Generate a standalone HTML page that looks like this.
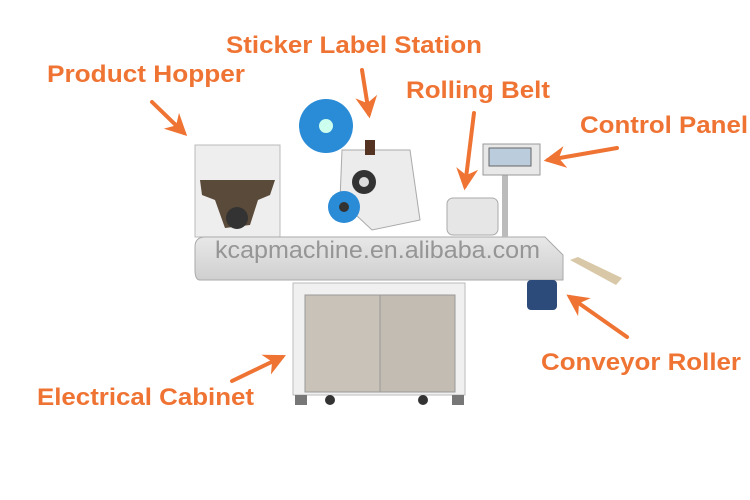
<!DOCTYPE html>
<html><head><meta charset="utf-8"><style>html,body{margin:0;padding:0;background:#fff}svg{display:block}</style></head>
<body>
<svg width="750" height="500" viewBox="0 0 750 500" xmlns="http://www.w3.org/2000/svg">
<defs>
<marker id="ah" viewBox="0 0 10 10" refX="8" refY="5" markerWidth="5.5" markerHeight="5.5" orient="auto"><path d="M0,0 L10,5 L0,10 L3,5 Z" fill="#ef7434"/></marker>
<linearGradient id="steel" x1="0" y1="0" x2="0" y2="1"><stop offset="0" stop-color="#e8e8e8"/><stop offset="1" stop-color="#cfcfcf"/></linearGradient>
</defs>
<rect width="750" height="500" fill="#fff"/>
<!-- hopper -->
<polygon points="195,145 280,145 280,237 195,237" fill="#eeeeee" stroke="#bbb"/>
<path d="M200,180 L275,180 L270,195 L258,200 L250,225 L225,228 L215,200 L202,195 Z" fill="#5a4a3a"/>
<circle cx="237" cy="218" r="11" fill="#333"/>
<!-- conveyor bar -->
<path d="M205,237 L545,237 L563,255 L563,280 L200,280 Q195,280 195,270 L195,247 Q195,237 205,237 Z" fill="url(#steel)" stroke="#aaa"/>
<polygon points="570,260 578,257 622,278 616,285" fill="#d9c8a8"/>
<!-- motor -->
<rect x="527" y="280" width="30" height="30" rx="4" fill="#2c4a7a"/>
<!-- cabinet -->
<rect x="293" y="283" width="172" height="112" fill="#f0f0f0" stroke="#bbb"/>
<rect x="305" y="295" width="75" height="97" fill="#c9c2b8" stroke="#999"/>
<rect x="380" y="295" width="75" height="97" fill="#c2bcb3" stroke="#999"/>
<rect x="295" y="395" width="12" height="10" fill="#777"/><rect x="452" y="395" width="12" height="10" fill="#777"/>
<circle cx="330" cy="400" r="5" fill="#333"/><circle cx="423" cy="400" r="5" fill="#333"/>
<!-- labeler -->
<polygon points="342,150 410,150 420,220 372,230 340,200" fill="#ececec" stroke="#aaa"/>
<circle cx="364" cy="182" r="12" fill="#333"/><circle cx="364" cy="182" r="5" fill="#ddd"/>
<circle cx="326" cy="126" r="27" fill="#2a8bd6"/><circle cx="326" cy="126" r="7" fill="#cfe"/>
<circle cx="344" cy="207" r="16" fill="#2a8bd6"/><circle cx="344" cy="207" r="5" fill="#333"/>
<rect x="365" y="140" width="10" height="15" fill="#553322"/>
<!-- control panel -->
<rect x="502" y="175" width="6" height="62" fill="#bbb"/>
<rect x="483" y="144" width="57" height="31" fill="#e8e8e8" stroke="#999"/>
<rect x="489" y="148" width="42" height="18" fill="#bcd" stroke="#666"/>
<!-- rolling belt -->
<rect x="447" y="198" width="51" height="37" rx="6" fill="#e6e6e6" stroke="#aaa"/>
<text x="215" y="258" font-family="Liberation Sans, sans-serif" font-size="24" fill="#888" fill-opacity="0.85" textLength="325" lengthAdjust="spacingAndGlyphs">kcapmachine.en.alibaba.com</text>
<!-- arrows -->
<g stroke="#ef7434" stroke-width="4" fill="none" stroke-linecap="round" marker-end="url(#ah)">
<line x1="152" y1="102" x2="184" y2="133"/>
<line x1="362" y1="70" x2="369" y2="114"/>
<line x1="474" y1="113" x2="465" y2="186"/>
<line x1="617" y1="148" x2="548" y2="160"/>
<line x1="627" y1="337" x2="570" y2="297"/>
<line x1="232" y1="381" x2="282" y2="357"/>
</g>
<g font-family="Liberation Sans, sans-serif" font-weight="bold" font-size="24" fill="#ef7434">
<text x="226" y="53" textLength="256" lengthAdjust="spacingAndGlyphs">Sticker Label Station</text>
<text x="47" y="82" textLength="198" lengthAdjust="spacingAndGlyphs">Product Hopper</text>
<text x="406" y="98" textLength="144" lengthAdjust="spacingAndGlyphs">Rolling Belt</text>
<text x="580" y="133" textLength="168" lengthAdjust="spacingAndGlyphs">Control Panel</text>
<text x="541" y="370" textLength="200" lengthAdjust="spacingAndGlyphs">Conveyor Roller</text>
<text x="37" y="405" textLength="217" lengthAdjust="spacingAndGlyphs">Electrical Cabinet</text>
</g>
</svg>
</body></html>
